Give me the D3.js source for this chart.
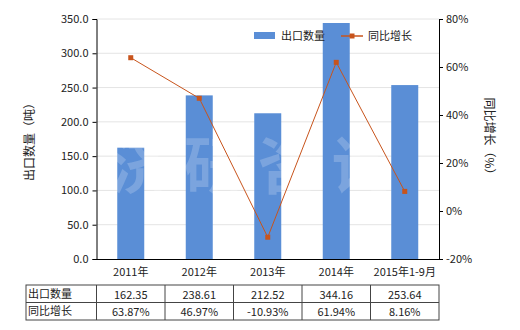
<!DOCTYPE html>
<html>
<head>
<meta charset="utf-8">
<script src="https://cdn.jsdelivr.net/npm/d3@7"></script>
<style>
  body { margin: 0; background: #fff; }
  text { font-family: "Noto Sans CJK SC", "DejaVu Sans", sans-serif; }
</style>
</head>
<body>
<div id="chart"></div>
<script>
// chart data
const categories = ["2011年", "2012年", "2013年", "2014年", "2015年1-9月"];
const exportQty = [162.35, 238.61, 212.52, 344.16, 253.64];
const growth = [63.87, 46.97, -10.93, 61.94, 8.16];
const qtyLabels = ["162.35", "238.61", "212.52", "344.16", "253.64"];
const growthLabels = ["63.87%", "46.97%", "-10.93%", "61.94%", "8.16%"];

const width = 520, height = 330;
const margin = { top: 19, right: 81, bottom: 71, left: 96.5 };
const plotW = width - margin.left - margin.right;
const plotH = height - margin.top - margin.bottom;

const barColor = "#5a8ed6";
const lineColor = "#c8541c";
const fontSize = 11;

const svg = d3.select("#chart").append("svg")
    .attr("width", width)
    .attr("height", height);

const g = svg.append("g").attr("transform", `translate(${margin.left},${margin.top})`);

// scales
const x = d3.scaleBand().domain(categories).range([0, plotW]).paddingInner(0.6).paddingOuter(0.3);
const xc = d3.scaleBand().domain(categories).range([0, plotW]);
const yL = d3.scaleLinear().domain([0, 350]).range([plotH, 0]);
const yR = d3.scaleLinear().domain([-20, 80]).range([plotH, 0]);

// gridlines
g.append("g")
    .selectAll("line")
    .data(yL.ticks(7).filter(d => d > 0))
    .join("line")
    .attr("x1", 0).attr("x2", plotW)
    .attr("y1", d => yL(d)).attr("y2", d => yL(d))
    .attr("stroke", "#e4e4e4");

// bars
g.append("g")
    .selectAll("rect")
    .data(exportQty)
    .join("rect")
    .attr("x", (d, i) => xc(categories[i]) + xc.bandwidth() / 2 - 13.5)
    .attr("width", 27)
    .attr("y", d => yL(d))
    .attr("height", d => plotH - yL(d))
    .attr("fill", barColor);

// watermark
g.append("text")
    .attr("x", plotW / 2 - 10).attr("y", plotH / 2 + 50)
    .attr("text-anchor", "middle")
    .attr("font-size", 62)
    .attr("font-weight", "bold")
    .attr("fill", "#ffffff")
    .attr("fill-opacity", 0.2)
    .attr("letter-spacing", 12)
    .text("济研咨询");

// growth line
const line = d3.line()
    .x((d, i) => xc(categories[i]) + xc.bandwidth() / 2)
    .y(d => yR(d));

g.append("path")
    .datum(growth)
    .attr("fill", "none")
    .attr("stroke", lineColor)
    .attr("stroke-width", 1)
    .attr("d", line);

g.append("g")
    .selectAll("rect")
    .data(growth)
    .join("rect")
    .attr("x", (d, i) => xc(categories[i]) + xc.bandwidth() / 2 - 2.5)
    .attr("y", d => yR(d) - 2.5)
    .attr("width", 5).attr("height", 5)
    .attr("fill", lineColor);

// axes
const axisL = g.append("g")
    .call(d3.axisLeft(yL).ticks(7).tickFormat(d3.format(".1f")).tickSizeOuter(0).tickSize(4));
const axisR = g.append("g")
    .attr("transform", `translate(${plotW},0)`)
    .call(d3.axisRight(yR).ticks(5).tickFormat(d => d + "%").tickSizeOuter(0).tickSize(4));
const axisB = g.append("g")
    .attr("transform", `translate(0,${plotH})`)
    .call(d3.axisBottom(xc).tickSize(0).tickPadding(9));

[axisL, axisR, axisB].forEach(a => {
    a.selectAll("path, line").attr("stroke", "#000");
    a.selectAll("text").attr("font-size", fontSize).attr("fill", "#222");
});
axisL.selectAll("text").attr("dx", -1);

// axis titles
svg.append("text")
    .attr("transform", `translate(34,${margin.top + plotH / 2}) rotate(-90)`)
    .attr("text-anchor", "middle")
    .attr("font-size", 12)
    .attr("fill", "#222")
    .text("出口数量（吨）");

svg.append("text")
    .attr("transform", `translate(485,${margin.top + plotH / 2}) rotate(90)`)
    .attr("text-anchor", "middle")
    .attr("font-size", 12)
    .attr("fill", "#222")
    .text("同比增长（%）");

// legend
const legend = svg.append("g");
legend.append("rect")
    .attr("x", 254).attr("y", 32).attr("width", 21).attr("height", 7)
    .attr("fill", barColor);
legend.append("text")
    .attr("x", 281).attr("y", 40).attr("font-size", fontSize).attr("fill", "#222")
    .text("出口数量");
legend.append("line")
    .attr("x1", 341).attr("x2", 363).attr("y1", 36).attr("y2", 36)
    .attr("stroke", lineColor).attr("stroke-width", 1.5);
legend.append("rect")
    .attr("x", 349.5).attr("y", 33.5).attr("width", 5).attr("height", 5)
    .attr("fill", lineColor);
legend.append("text")
    .attr("x", 368).attr("y", 40).attr("font-size", fontSize).attr("fill", "#222")
    .text("同比增长");

// data table
const tableTop = 285, rowH = 17.5, tableLeft = 26;
const rows = [
    { name: "出口数量", values: qtyLabels },
    { name: "同比增长", values: growthLabels }
];
const table = svg.append("g");
table.append("rect")
    .attr("x", tableLeft).attr("y", tableTop)
    .attr("width", margin.left + plotW - tableLeft).attr("height", rowH * 2)
    .attr("fill", "none").attr("stroke", "#444");
table.append("line")
    .attr("x1", tableLeft).attr("x2", margin.left + plotW)
    .attr("y1", tableTop + rowH).attr("y2", tableTop + rowH)
    .attr("stroke", "#444");
table.selectAll("line.col")
    .data(categories)
    .join("line")
    .attr("class", "col")
    .attr("x1", d => margin.left + xc(d)).attr("x2", d => margin.left + xc(d))
    .attr("y1", tableTop).attr("y2", tableTop + rowH * 2)
    .attr("stroke", "#444");

rows.forEach((r, ri) => {
    const y = tableTop + rowH * ri + rowH / 2 + 4;
    table.append("text")
        .attr("x", tableLeft + 2).attr("y", y)
        .attr("font-size", fontSize).attr("fill", "#222")
        .text(r.name);
    table.append("g")
        .selectAll("text")
        .data(r.values)
        .join("text")
        .attr("x", (d, i) => margin.left + xc(categories[i]) + xc.bandwidth() / 2)
        .attr("y", y + 1)
        .attr("text-anchor", "middle")
        .attr("font-size", fontSize).attr("fill", "#222")
        .text(d => d);
});
</script>
</body>
</html>
